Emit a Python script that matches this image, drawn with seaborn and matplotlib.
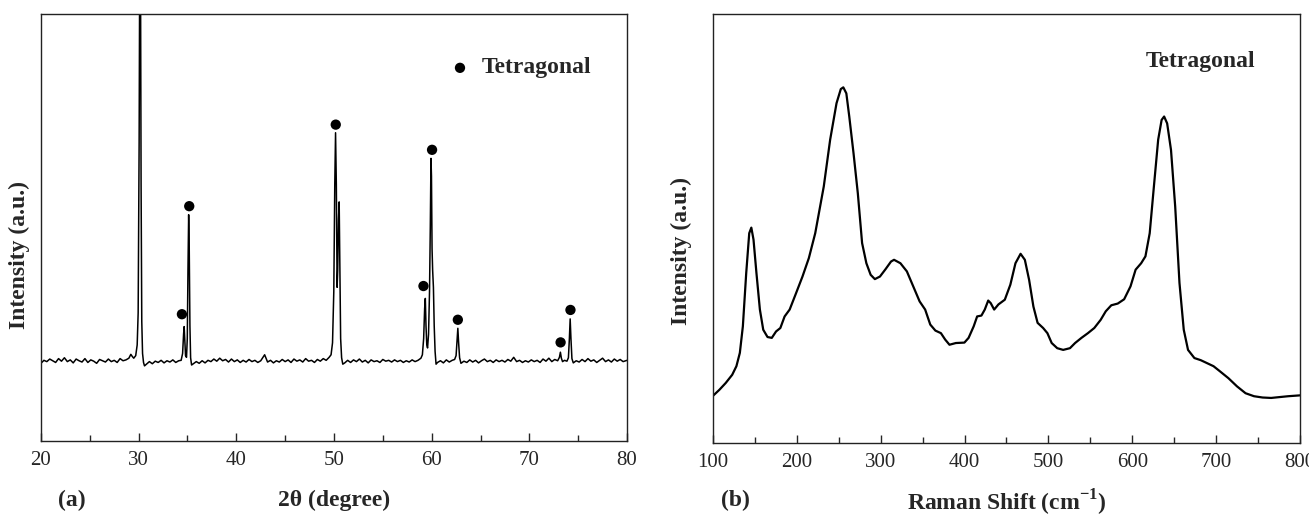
import numpy as np
import pandas as pd
import matplotlib
matplotlib.use('Agg')
import matplotlib.pyplot as plt
from matplotlib.ticker import MultipleLocator
import seaborn as sns

# Data
# ======================================================================================
# (a) XRD pattern, intensity in arbitrary units (0-100 = axis height)
xrd_two_theta = [
    20.0, 20.3, 20.6, 20.9, 21.2, 21.5, 21.8, 22.1, 22.4, 22.7, 23.0, 23.3, 23.6, 23.9,
    24.2, 24.5, 24.8, 25.1, 25.4, 25.7, 26.0, 26.3, 26.6, 26.9, 27.2, 27.5, 27.8, 28.1,
    28.4, 28.7, 29.0,
    29.2, 29.35, 29.5, 29.7, 29.85, 29.95, 30.05, 30.12, 30.18, 30.25, 30.32, 30.4, 30.5,
    30.6, 30.8,
    31.1, 31.4, 31.7, 32.0, 32.3, 32.6, 32.9, 33.2, 33.5, 33.8, 34.1, 34.35,
    34.5, 34.6, 34.66, 34.72, 34.8, 34.9, 34.98, 35.05, 35.12, 35.18, 35.25, 35.32, 35.42,
    35.6,
    35.9, 36.2, 36.5, 36.8, 37.1, 37.4, 37.7, 38.0, 38.3, 38.6, 38.9, 39.2, 39.5, 39.8,
    40.1, 40.4, 40.7, 41.0, 41.3, 41.6, 41.9, 42.2, 42.5, 42.9, 43.2, 43.5, 43.8, 44.1,
    44.4, 44.7, 45.0, 45.3, 45.6, 45.9, 46.2, 46.5, 46.8, 47.1, 47.4, 47.7, 48.0, 48.3,
    48.6, 48.9, 49.2, 49.5,
    49.7, 49.85, 49.98, 50.08, 50.16, 50.24, 50.32, 50.38, 50.46, 50.53, 50.6, 50.68,
    50.78, 50.9, 51.1,
    51.4, 51.7, 52.0, 52.3, 52.6, 52.9, 53.2, 53.5, 53.8, 54.1, 54.4, 54.7, 55.0, 55.3,
    55.6, 55.9, 56.2, 56.5, 56.8, 57.1, 57.4, 57.7, 58.0, 58.3, 58.6, 58.9,
    59.05, 59.18, 59.28, 59.35, 59.42, 59.5, 59.58, 59.68, 59.78, 59.86, 59.93, 59.98,
    60.04, 60.1, 60.18, 60.26, 60.35, 60.45, 60.6,
    60.9, 61.2, 61.5, 61.8, 62.1, 62.35,
    62.5, 62.6, 62.68, 62.76, 62.86, 63.0,
    63.3, 63.6, 63.9, 64.2, 64.5, 64.8, 65.1, 65.4, 65.7, 66.0, 66.3, 66.6, 66.9, 67.2,
    67.5, 67.8, 68.1, 68.4, 68.7, 69.0, 69.3, 69.6, 69.9, 70.2, 70.5, 70.8, 71.1, 71.4,
    71.7, 72.0, 72.3, 72.6, 72.9,
    73.08, 73.18, 73.28, 73.4, 73.6, 73.85,
    74.0, 74.1, 74.18, 74.26, 74.36, 74.5,
    74.8, 75.1, 75.4, 75.7, 76.0, 76.3, 76.6, 76.9, 77.2, 77.5, 77.8, 78.1, 78.4, 78.7,
    79.0, 79.3, 79.6, 80.0,
]
xrd_intensity = [
    18.2, 18.9, 18.6, 19.2, 18.8, 18.4, 19.3, 18.7, 19.5, 18.6, 19.0, 18.3, 19.2, 18.8,
    18.5, 19.3, 18.4, 19.0, 18.7, 18.2, 19.1, 18.8, 18.5, 19.2, 18.6, 18.9, 18.4, 19.3,
    18.8, 19.0, 19.4,
    20.3, 19.8, 19.4, 20.0, 22.5, 30.0, 70.0, 120.0, 120.0, 60.0, 28.0, 20.5, 18.4,
    17.6, 18.0,
    18.6, 18.1, 18.7, 18.4, 18.9, 18.3, 18.8, 18.5, 19.0, 18.4, 18.8, 18.9,
    20.5, 25.0, 26.8, 24.0, 20.0, 19.6, 24.0, 40.0, 53.0, 45.0, 27.0, 19.5, 17.8,
    18.1,
    18.6, 18.2, 18.8, 18.3, 18.9, 18.6, 19.2, 18.7, 19.4, 18.8, 19.1, 18.5, 19.2, 18.6,
    19.0, 18.4, 18.9, 18.5, 19.1, 18.6, 18.9, 18.4, 18.8, 20.2, 18.5, 18.9, 18.3, 18.8,
    18.5, 19.1, 18.6, 19.0, 18.4, 19.2, 18.7, 19.0, 18.5, 19.3, 18.7, 18.9, 18.4, 19.1,
    18.7, 19.3, 18.9, 19.6,
    20.2, 23.0, 35.0, 60.0, 72.2, 60.0, 36.0, 40.0, 52.0, 56.0, 40.0, 24.0,
    19.5, 18.0, 18.3,
    18.9, 18.4, 19.0, 18.6, 19.2, 18.5, 18.9, 18.3, 19.0, 18.6, 18.8, 18.4, 19.1, 18.7,
    18.9, 18.5, 19.0, 18.6, 18.9, 18.4, 18.8, 18.5, 19.0, 18.6, 18.9, 19.4,
    20.2, 24.0, 31.0, 33.4, 27.0, 22.5, 21.8, 25.0, 35.0, 50.0, 66.2, 62.0,
    45.0, 40.0, 36.0, 27.0, 21.0, 18.0, 18.4,
    18.8, 18.3, 19.0, 18.5, 18.9, 19.1,
    20.0, 23.5, 26.4, 23.0, 19.5, 18.2,
    18.7, 18.4, 19.0, 18.5, 18.9, 18.3, 18.8, 19.2, 18.6, 18.9, 18.4, 19.0, 18.6, 18.9,
    18.5, 19.1, 18.7, 19.6, 18.6, 18.9, 18.4, 18.8, 18.5, 19.0, 18.6, 18.9, 18.4, 19.2,
    18.7, 19.4, 18.6, 19.1, 18.8,
    19.6, 20.8, 19.4, 18.6, 18.9, 18.7,
    19.5, 24.0, 28.6, 24.0, 19.3, 18.3,
    18.8, 18.5, 19.1, 18.6, 19.3, 18.7, 19.0, 18.4, 18.9, 19.4, 18.6, 19.0, 18.5, 19.2,
    18.7, 19.1, 18.6, 18.9,
]
# tetragonal phase markers above the peaks
marker_two_theta = [34.43, 35.18, 50.18, 59.16, 60.04, 62.68, 73.2, 74.21]
marker_intensity = [29.7, 55.0, 74.1, 36.3, 68.2, 28.4, 23.1, 30.7]

# (b) Raman spectrum
raman_shift = [
    100, 107.6, 115.2, 122.9, 127.9, 132, 135.6, 139.6, 143.2, 145.7, 148.3, 151.8, 155.9,
    159.9, 165, 170.1, 175.2, 180.3, 185.4, 191.4, 199, 206.7, 214.3, 221.9, 232.1, 239.7,
    247.3, 252.4, 255.4, 259, 262.5, 267.6, 272.7, 277.8, 282.9, 288, 293, 299.1, 305.7,
    312.3, 315.9, 323.5, 331.2, 338.8, 346.4, 353, 359.1, 365.2, 371.8, 376.9, 382, 389.6,
    399.8, 404.8, 410.9, 415, 420.1, 424.1, 428.2, 431.2, 435.3, 440.4, 448, 454.6, 460.7,
    466.8, 471.9, 477, 482.1, 487.1, 493.7, 498.8, 503.9, 510.5, 517.6, 525.7, 531.8,
    539.4, 547.1, 554.7, 562.3, 568.4, 575, 582.7, 590.3, 597.9, 604, 610.6, 615.7, 620.8,
    625.8, 630.9, 635, 638, 641.6, 646.2, 651.2, 656.3, 661.4, 666.5, 674.1, 681.7, 689.3,
    696.9, 704.6, 714.7, 724.9, 735.1, 745.2, 755.4, 765.6, 775.7, 785.9, 800,
]
raman_intensity = [
    11.0, 12.4, 14.0, 15.9, 17.9, 21.0, 27.2, 39.6, 48.9, 50.2, 47.4, 39.6, 31.1,
    26.4, 24.7, 24.5, 26.0, 26.8, 29.5, 31.1, 34.9, 38.8, 43.1, 48.9, 59.8, 70.7,
    79.2, 82.5, 82.9, 81.5, 76.1, 67.5, 58.2, 46.6, 41.9, 39.2, 38.2, 38.8, 40.5,
    42.3, 42.7, 41.9, 40.0, 36.5, 33.0, 31.1, 27.6, 26.2, 25.6, 24.1, 22.9, 23.3,
    23.4, 24.5, 27.2, 29.5, 29.7, 31.1, 33.2, 32.6, 31.1, 32.3, 33.4, 36.9, 41.9,
    44.1, 42.7, 38.0, 31.8, 28.0, 26.8, 25.6, 23.3, 22.1, 21.7, 22.1, 23.3,
    24.5, 25.6, 26.8, 28.7, 30.7, 32.1, 32.5, 33.5, 36.5, 40.4, 41.9, 43.5, 48.9,
    59.8, 70.7, 75.3, 76.1, 74.5, 68.3, 55.1, 37.3, 26.4, 21.7, 19.8, 19.3, 18.6,
    17.9, 16.7, 15.1, 13.2, 11.6, 10.9, 10.6, 10.5, 10.7, 10.9, 11.1,
]

xrd = pd.DataFrame({'two_theta': xrd_two_theta, 'intensity': xrd_intensity})
raman = pd.DataFrame({'shift': raman_shift, 'intensity': raman_intensity})

# Style
# ======================================================================================
sns.set_style('ticks')
plt.rcParams['font.family'] = ['Liberation Serif', 'DejaVu Serif']
plt.rcParams['mathtext.fontset'] = 'custom'
plt.rcParams['mathtext.rm'] = 'Liberation Serif'
plt.rcParams['mathtext.bf'] = 'Liberation Serif:bold'

fig = plt.figure(figsize=(13.09, 5.16), dpi=100)
ax1 = fig.add_axes([0.0313, 0.1453, 0.4477, 0.8275])
ax2 = fig.add_axes([0.5447, 0.1415, 0.4484, 0.8314])


def style_axis(ax, major, minor):
    ax.xaxis.set_major_locator(MultipleLocator(major))
    ax.xaxis.set_minor_locator(MultipleLocator(minor))
    ax.tick_params(axis='x', which='major', direction='in', length=6, width=1,
                   labelsize=15, pad=7, top=False)
    ax.tick_params(axis='x', which='minor', direction='in', length=4, width=1, top=False)
    ax.set_yticks([])
    for sp in ax.spines.values():
        sp.set_visible(True)
        sp.set_linewidth(1.0)
        sp.set_color('#222222')


# (a) XRD
sns.lineplot(data=xrd, x='two_theta', y='intensity', ax=ax1, color='black',
             linewidth=1.1, sort=False, estimator=None)
sns.scatterplot(x=marker_two_theta, y=marker_intensity, ax=ax1, color='black',
                s=55, edgecolor='none', zorder=3)
sns.scatterplot(x=[62.9], y=[87.4], ax=ax1, color='black', s=55, edgecolor='none')
ax1.text(65.1, 87.4, 'Tetragonal', fontsize=17, fontweight='bold', va='center', ha='left')
ax1.set_xlim(20, 80)
ax1.set_ylim(0, 100)
style_axis(ax1, 10, 5)
ax1.set_xlabel('2θ (degree)', fontsize=17, fontweight='bold')
ax1.xaxis.label.set_va('center')
ax1.xaxis.set_label_coords(0.5, -0.138)
ax1.set_ylabel('Intensity (a.u.)', fontsize=17, fontweight='bold')
ax1.yaxis.label.set_va('center')
ax1.yaxis.set_label_coords(-0.0375, 0.435)
fig.text(72 / 1309, 1 - 500 / 516, '(a)', fontsize=17, fontweight='bold',
         ha='center', va='center')

# (b) Raman
sns.lineplot(data=raman, x='shift', y='intensity', ax=ax2, color='black',
             linewidth=1.6, sort=False, estimator=None)
ax2.text(615.6, 88.9, 'Tetragonal', fontsize=17, fontweight='bold', va='center', ha='left')
ax2.set_xlim(100, 800)
ax2.set_ylim(0, 100)
style_axis(ax2, 100, 50)
ax2.set_xlabel(r'Raman Shift (cm$^{\mathbf{-1}}$)', fontsize=17, fontweight='bold')
ax2.xaxis.label.set_va('center')
ax2.xaxis.set_label_coords(0.5, -0.14)
ax2.set_ylabel('Intensity (a.u.)', fontsize=17, fontweight='bold')
ax2.yaxis.label.set_va('center')
ax2.yaxis.set_label_coords(-0.0545, 0.447)
fig.text(735 / 1309, 1 - 500 / 516, '(b)', fontsize=17, fontweight='bold',
         ha='center', va='center')

fig.savefig('out.png', dpi=100)
